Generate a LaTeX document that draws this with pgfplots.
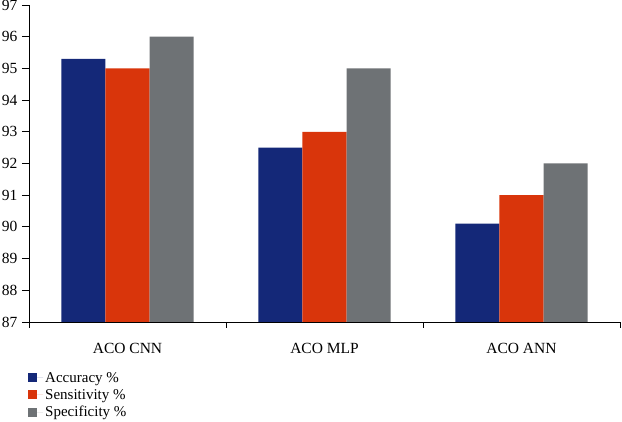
\documentclass[border=0pt]{standalone}
\usepackage{pgfplots}
\pgfplotsset{compat=1.18}
\usepackage{fontspec}
\setmainfont{Liberation Serif}
\definecolor{cblue}{RGB}{20,40,120}
\definecolor{cred}{RGB}{217,53,11}
\definecolor{cgray}{RGB}{110,114,117}
\begin{document}
\begin{tikzpicture}
\path[use as bounding box] (0,0) rectangle (622pt,422pt);
\begin{axis}[
  at={(29pt,100pt)}, anchor=south west,
  scale only axis, width=591pt, height=317pt,
  ybar=0pt, bar width=44pt,
  xmin=-0.5, xmax=2.5, ymin=87, ymax=97,
  ytick={87,88,...,97},
  xtick={0,1,2},
  xticklabels={ACO CNN, ACO MLP, ACO ANN},
  minor xtick={-0.5,0.5,1.5,2.5},
  major x tick style={draw=none},
  minor tick length=6pt, major tick length=7pt,
  axis x line*=bottom, axis y line*=left,
  tick align=outside,
  axis line style={black, line width=0.8pt},
  every tick/.style={black, line width=0.8pt},
  /pgf/number format/assume math mode=true,
  ticklabel style={font=\fontsize{15.5}{17}\selectfont},
  xticklabel style={yshift=-11pt},
  yticklabel style={xshift=-1pt},
  legend style={at={(0,0)}, anchor=north west, xshift=-4pt, yshift=-46pt,
    draw=none, fill=none, font=\fontsize{15}{17}\selectfont,
    row sep=1.5pt, legend cell align=left},
  legend image code/.code={\fill[#1] (0pt,-4.5pt) rectangle (9pt,4.5pt); \path (0pt,0pt) -- (15pt,0pt);},
]
\addplot[fill=cblue, draw=none] coordinates {(0,95.3) (1,92.5) (2,90.1)};
\addplot[fill=cred, draw=none] coordinates {(0,95.0) (1,93.0) (2,91.0)};
\addplot[fill=cgray, draw=none] coordinates {(0,96.0) (1,95.0) (2,92.0)};
\legend{Accuracy \%, Sensitivity \%, Specificity \%}
\end{axis}
\end{tikzpicture}
\end{document}
